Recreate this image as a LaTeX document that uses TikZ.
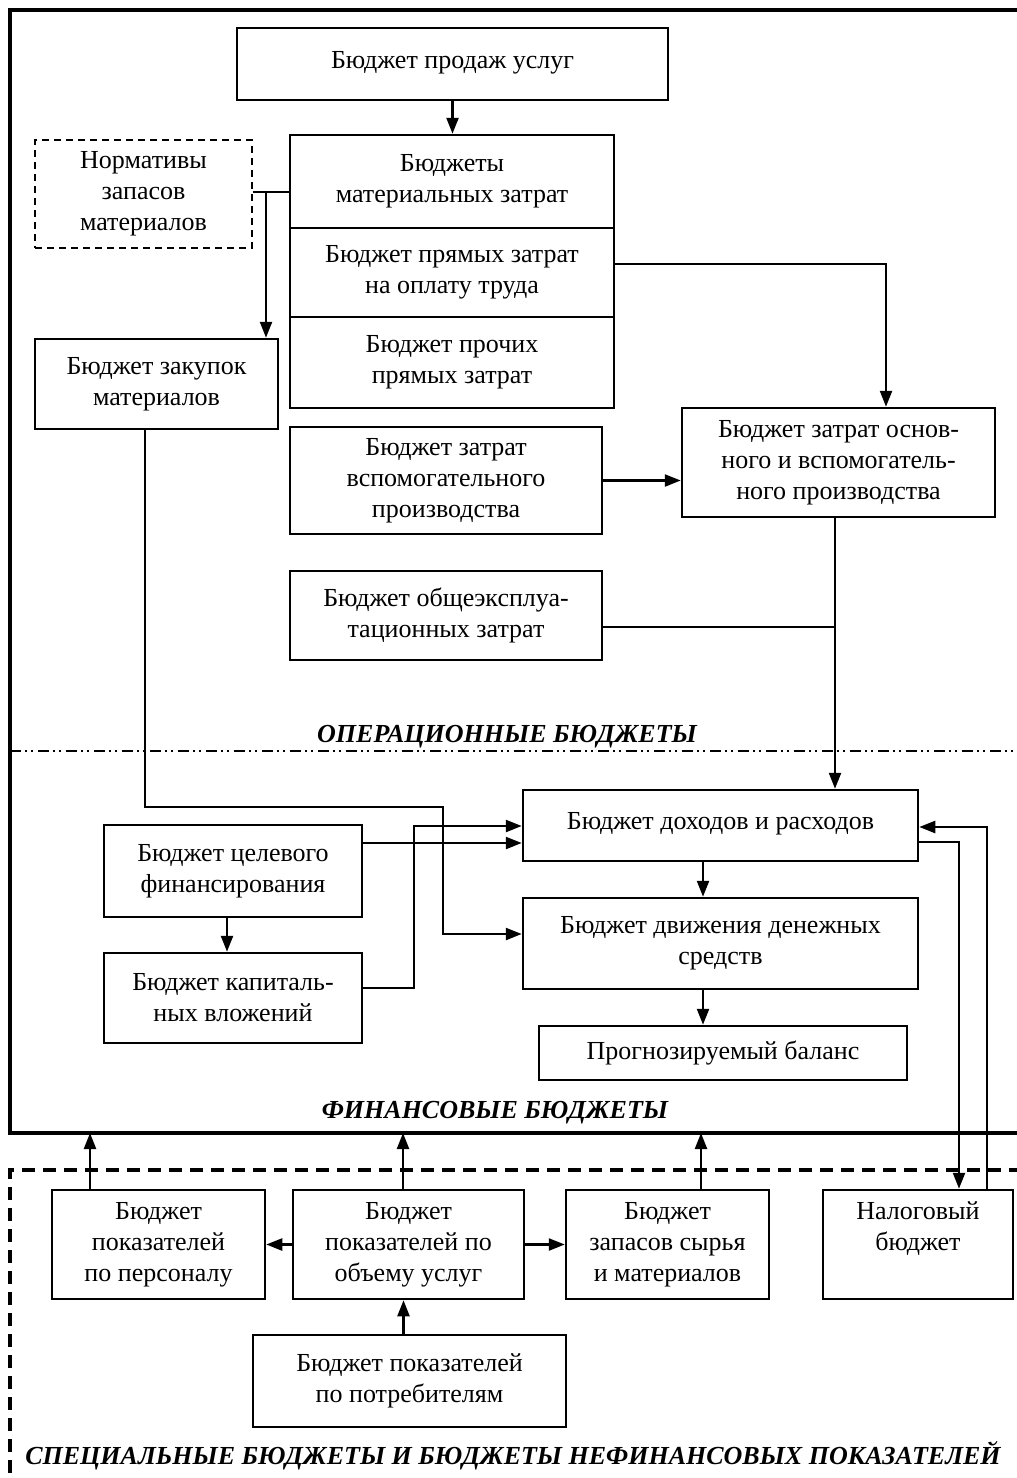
\documentclass[tikz,border=0pt]{standalone}
\usepackage{fontspec}
\setmainfont{Liberation Serif}
\usetikzlibrary{arrows.meta}
\newcommand{\bodyfont}{\fontsize{26}{31}\selectfont}
\begin{document}
\begin{tikzpicture}[x=1pt,y=-1pt,
 box/.style={draw, line width=2.5pt, inner sep=0pt, align=center, font=\bodyfont},
 dbox/.style={box, line width=2pt, dash pattern=on 7pt off 5pt},
 arr/.style={line width=2.4pt, -{Triangle[length=16pt,width=12pt]}},
 ln/.style={line width=2.4pt},
 frame/.style={line width=3.5pt},
 lbl/.style={font=\bodyfont\bfseries\itshape, inner sep=0pt}
]
\useasboundingbox (0,0) rectangle (1017,1478);

% frames
\coordinate (ftl) at (10,10);
\coordinate (ftr) at (1022,10);
\coordinate (fbl) at (10,1133);
\coordinate (fbr) at (1022,1133);
\draw[frame] (ftr) -- (ftl) -- (fbl) -- (fbr);
\coordinate (ddl) at (10,751);
\coordinate (ddr) at (1022,751);
\draw[line width=2.2pt, dash pattern=on 11pt off 4pt on 2pt off 4pt on 2pt off 5pt] (ddl) -- (ddr);
\coordinate (dfr) at (1022,1170);
\coordinate (dfl) at (10,1170);
\coordinate (dfb) at (10,1482);
\draw[frame, dash pattern=on 13pt off 8pt] (dfr) -- (dfl) -- (dfb);

% labels
\node[lbl] (lop) at (507,737) {ОПЕРАЦИОННЫЕ БЮДЖЕТЫ};
\node[lbl] (lfin) at (495,1113) {ФИНАНСОВЫЕ БЮДЖЕТЫ};
\node[lbl] (lsp) at (513,1456) {СПЕЦИАЛЬНЫЕ БЮДЖЕТЫ И БЮДЖЕТЫ НЕФИНАНСОВЫХ ПОКАЗАТЕЛЕЙ};

% operational boxes
\node[box, minimum width=431pt, minimum height=72pt] (prod) at (452.5,64) {\raisebox{9pt}{Бюджет продаж услуг}};
\node[box, minimum width=324pt, minimum height=93pt] (s1) at (452,181.5) {Бюджеты\\материальных затрат};
\node[box, minimum width=324pt, minimum height=89pt] (s2) at (452,272.5) {Бюджет прямых затрат\\на оплату труда};
\node[box, minimum width=324pt, minimum height=91pt] (s3) at (452,362.5) {Бюджет прочих\\прямых затрат};
\node[dbox, minimum width=217pt, minimum height=108pt] (norm) at (143.5,194) {Нормативы\\запасов\\материалов};
\node[box, minimum width=243pt, minimum height=90pt] (zak) at (156.5,384) {Бюджет закупок\\материалов};
\node[box, minimum width=312pt, minimum height=107pt] (vsp) at (446,480.5) {Бюджет затрат\\вспомогательного\\производства};
\node[box, minimum width=313pt, minimum height=109pt] (osn) at (838.5,462.5) {Бюджет затрат основ-\\ного и вспомогатель-\\ного производства};
\node[box, minimum width=312pt, minimum height=89pt] (obs) at (446,615.5) {Бюджет общеэксплуа-\\тационных затрат};

% financial boxes
\node[box, minimum width=395pt, minimum height=71pt] (dr) at (720.5,825.5) {\raisebox{10pt}{Бюджет доходов и расходов}};
\node[box, minimum width=395pt, minimum height=91pt] (dds) at (720.5,943.5) {Бюджет движения денежных\\средств};
\node[box, minimum width=368pt, minimum height=54pt] (bal) at (723,1053) {Прогнозируемый баланс};
\node[box, minimum width=258pt, minimum height=92pt] (cel) at (233,871) {Бюджет целевого\\финансирования};
\node[box, minimum width=258pt, minimum height=90pt] (kap) at (233,998) {Бюджет капиталь-\\ных вложений};

% special boxes
\node[box, minimum width=213pt, minimum height=109pt] (pers) at (158.5,1244.5) {Бюджет\\показателей\\по персоналу};
\node[box, minimum width=231pt, minimum height=109pt] (obem) at (408.5,1244.5) {Бюджет\\показателей по\\объему услуг};
\node[box, minimum width=203pt, minimum height=109pt] (zap) at (667.5,1244.5) {Бюджет\\запасов сырья\\и материалов};
\node[box, minimum width=190pt, minimum height=109pt] (nal) at (918,1244.5) {Налоговый\\бюджет\\\vphantom{бюджет}};
\node[box, minimum width=313pt, minimum height=92pt] (potr) at (409.5,1381) {Бюджет показателей\\по потребителям};

% connectors: operational
\draw[arr] (prod.south) -- (prod.south |- s1.north);
\coordinate (nbA) at ([yshift=-10.5pt]s1.west);
\draw[ln] (nbA) -- (nbA -| norm.east);
\coordinate (nbB) at (266,192);
\draw[arr] (nbB) -- (nbB |- zak.north);
\coordinate (s2o) at ([yshift=8.5pt]s2.east);
\coordinate (osnin) at ([xshift=47.5pt]osn.north);
\draw[arr] (s2o) -| (osnin);
\draw[arr] (vsp.east) -- (vsp.east -| osn.west);
\coordinate (osnout) at ([xshift=-3.5pt]osn.south);
\draw[arr] (osnout) -- (osnout |- dr.north);
\coordinate (obsout) at ([yshift=-11.5pt]obs.east);
\draw[ln] (obsout) -- (obsout -| osnout);

% connectors: financial
\coordinate (zo) at ([xshift=-11.5pt]zak.south);
\coordinate (zk) at (443,807);
\coordinate (dsin) at ([yshift=9.5pt]dds.west);
\draw[arr] (zo) |- (zk) |- (dsin);
\coordinate (celout) at ([yshift=28pt]cel.east);
\draw[arr] (celout) -- (celout -| dr.west);
\coordinate (kapout) at ([yshift=10pt]kap.east);
\coordinate (kk) at (414,826);
\draw[arr] (kapout) -| (kk) -- (kk -| dr.west);
\coordinate (celd) at ([xshift=-6pt]cel.south);
\draw[arr] (celd) -- (celd |- kap.north);
\coordinate (drd) at ([xshift=-17.5pt]dr.south);
\draw[arr] (drd) -- (drd |- dds.north);
\coordinate (ddsd) at ([xshift=-17.5pt]dds.south);
\draw[arr] (ddsd) -- (ddsd |- bal.north);
\coordinate (dro) at ([yshift=-16.5pt]dr.east);
\coordinate (nalin) at ([xshift=41pt]nal.north);
\draw[arr] (dro) -| (nalin);
\coordinate (nalout) at ([xshift=69pt]nal.north);
\coordinate (drin) at ([yshift=-1.5pt]dr.east);
\draw[arr] (nalout) |- (drin);

% connectors: special
\coordinate (pu) at ([xshift=-68.5pt]pers.north);
\draw[arr] (pu) -- (pu |- fbl);
\coordinate (ou) at ([xshift=-5.5pt]obem.north);
\draw[arr] (ou) -- (ou |- fbl);
\coordinate (zu) at ([xshift=33.5pt]zap.north);
\draw[arr] (zu) -- (zu |- fbl);
\draw[arr] (obem.west) -- (pers.east);
\draw[arr] (obem.east) -- (zap.west);
\coordinate (pt) at ([xshift=-6pt]potr.north);
\draw[arr] (pt) -- (pt |- obem.south);
\end{tikzpicture}
\end{document}
